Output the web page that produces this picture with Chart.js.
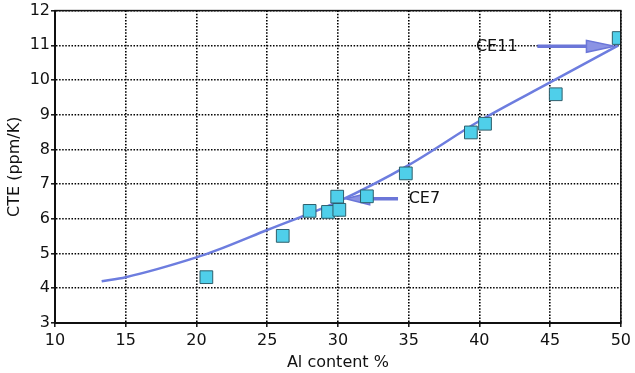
<!DOCTYPE html>
<html><head><meta charset="utf-8">
<script src="https://cdn.jsdelivr.net/npm/chart.js@4"></script>
<style>html,body{margin:0;padding:0;background:#fff}</style>
</head><body>
<canvas id="c" width="635" height="373"></canvas>
<script>
// measured data
const alContent = [20.7, 26.1, 28.0, 29.3, 30.1, 29.95, 32.05, 34.8, 39.4, 40.4, 45.4, 49.85];
const cteValues = [4.32, 5.51, 6.23, 6.2, 6.26, 6.64, 6.65, 7.31, 8.49, 8.74, 9.59, 11.21];
// fitted curve
const fitX = [13.3, 15, 20, 21.4, 25, 30, 35, 40, 45, 49.8];
const fitY = [4.2, 4.32, 4.89, 5.09, 5.68, 6.5, 7.55, 8.82, 9.93, 10.99];
// axis
const xTicks = [10, 15, 20, 25, 30, 35, 40, 45, 50];
const yTicks = [3, 4, 5, 6, 7, 8, 9, 10, 11, 12];
const xTitle = 'Al content %';
const yTitle = 'CTE (ppm/K)';
// annotation labels (data units)
const noteLabels = ['CE11', 'CE7'];
const noteTextX = [42.7, 35.0];
const noteTextY = [10.97, 6.57];
const noteArrowFromX = [44.1, 34.25];
const noteArrowToX = [49.55, 30.55];
const noteArrowY = [10.97, 6.58];

const FONT = 'DejaVu Sans';
const ARROW = '#6b76d8';

const boxPlugin = {
  id: 'box',
  beforeDatasetsDraw(chart) {
    const {ctx, scales: {x, y}} = chart;
    ctx.save();
    for (let i = 0; i < noteLabels.length; i++) {
      const x1 = x.getPixelForValue(noteArrowFromX[i]);
      const x2 = x.getPixelForValue(noteArrowToX[i]);
      const py = y.getPixelForValue(noteArrowY[i]);
      const dir = x2 > x1 ? 1 : -1;
      const headLen = i === 0 ? 28 : 24;
      ctx.strokeStyle = ARROW;
      ctx.lineWidth = 3.5;
      ctx.beginPath();
      ctx.moveTo(x1, py);
      ctx.lineTo(x2 - dir * headLen * 0.8, py);
      ctx.stroke();
      ctx.fillStyle = '#8b93e4';
      ctx.lineWidth = 1.5;
      ctx.beginPath();
      ctx.moveTo(x2, py);
      ctx.lineTo(x2 - dir * headLen, py - 6);
      ctx.lineTo(x2 - dir * headLen, py + 6);
      ctx.closePath();
      ctx.fill();
      ctx.stroke();
      ctx.fillStyle = '#111';
      ctx.font = '16px "' + FONT + '"';
      ctx.textBaseline = 'middle';
      ctx.textAlign = dir > 0 ? 'right' : 'left';
      ctx.fillText(noteLabels[i], x.getPixelForValue(noteTextX[i]), y.getPixelForValue(noteTextY[i]));
    }
    ctx.restore();
  },
  afterDraw(chart) {
    const {ctx, chartArea: a} = chart;
    ctx.save();
    ctx.setLineDash([]);
    ctx.strokeStyle = '#111';
    ctx.lineWidth = 1.5;
    ctx.strokeRect(a.left, a.top, a.right - a.left, a.bottom - a.top);
    ctx.restore();
  }
};

const gridOpts = {color: '#000', lineWidth: 1.6, tickLength: 4, tickBorderDash: [], tickColor: '#111', tickWidth: 1.5};
const borderOpts = {display: true, color: '#111', width: 2, dash: [1.5, 1.6]};

new Chart(document.getElementById('c'), {
  type: 'scatter',
  data: {
    datasets: [
      {
        data: alContent.map((v, i) => ({x: v, y: cteValues[i]})),
        pointStyle: 'rect',
        pointRadius: 9,
        pointHoverRadius: 9,
        backgroundColor: '#4fcfea',
        borderColor: '#2e5f6c',
        borderWidth: 1
      },
      {
        type: 'line',
        data: fitX.map((v, i) => ({x: v, y: fitY[i]})),
        borderColor: '#6d7ddf',
        borderWidth: 2.5,
        pointRadius: 0,
        fill: false,
        tension: 0.4,
        cubicInterpolationMode: 'monotone'
      }
    ]
  },
  options: {
    responsive: false,
    animation: false,
    events: [],
    layout: {padding: {top: 7, right: 12, left: 0, bottom: 0}},
    plugins: {legend: {display: false}, tooltip: {enabled: false}},
    scales: {
      x: {
        type: 'linear', min: 10, max: 50,
        afterBuildTicks(s) { s.ticks = xTicks.map(v => ({value: v})); },
        afterFit(s) { s.height = 50; },
        border: borderOpts,
        grid: gridOpts,
        ticks: {color: '#111', font: {family: FONT, size: 16}, padding: 4, maxRotation: 0, autoSkip: false},
        title: {display: true, text: xTitle, color: '#111', font: {family: FONT, size: 16}, padding: {top: 0, bottom: 1}}
      },
      y: {
        type: 'linear', min: 3, max: 12,
        afterBuildTicks(s) { s.ticks = yTicks.map(v => ({value: v})); },
        afterFit(s) { s.width = 55; },
        border: borderOpts,
        grid: gridOpts,
        ticks: {color: '#111', font: {family: FONT, size: 16}, padding: 1, autoSkip: false},
        title: {display: true, text: yTitle, color: '#111', font: {family: FONT, size: 16}, padding: {top: 5, bottom: 0}}
      }
    }
  },
  plugins: [boxPlugin]
});
</script>
</body></html>
